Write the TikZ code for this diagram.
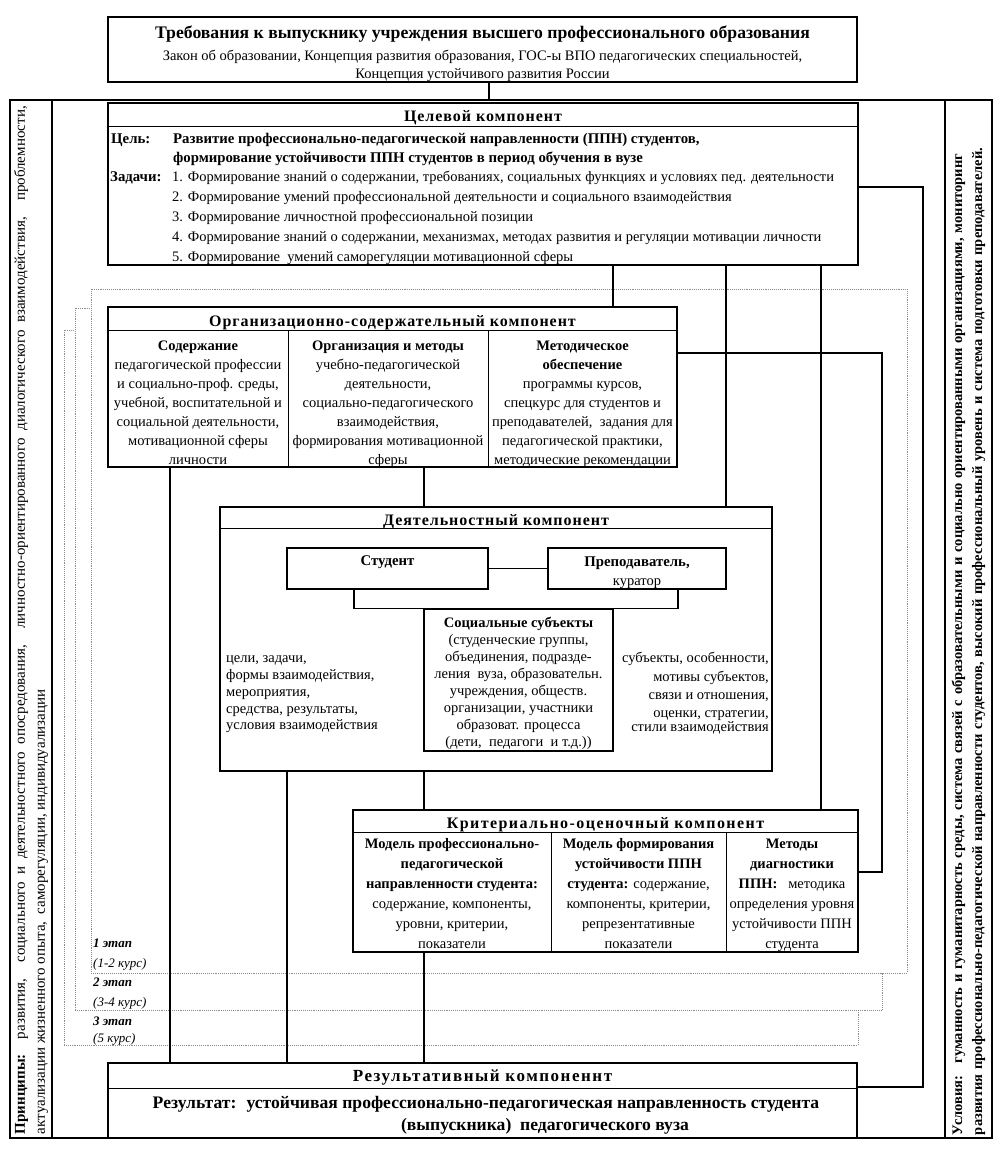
\documentclass[tikz,border=0pt]{standalone}
\usepackage{fontspec}
\setmainfont{Liberation Serif}
\newfontfamily\hdrfam[LetterSpace=6]{Liberation Serif}
\newfontfamily\hdrwide[LetterSpace=9]{Liberation Serif}
\newcommand\fn{\fontsize{14.5}{16}\selectfont}
\newcommand\fb{\fontsize{14.8}{16}\selectfont\bfseries}
\newcommand\fs{\fontsize{13}{15}\selectfont}
\newcommand\fh{\hdrfam\fontsize{16}{18}\selectfont\bfseries}
\newcommand\ftitle{\fontsize{17.7}{19}\selectfont\bfseries}
\newcommand\fres{\fontsize{17.6}{19}\selectfont\bfseries}
\newcommand\colnodes[5]{%
  \foreach \l [count=\i] in {#5} {\node[tx] (#1\i) at ({#2},{#3+#4*(\i-1)}) {\l};}}
\begin{document}
\begin{tikzpicture}[x=1pt,y=-1pt,
  bx/.style={draw, line width=1.4pt, fill=white, inner sep=0pt},
  outerframe/.style={draw, line width=1.6pt, inner sep=0pt},
  fr/.style={draw=black!45, densely dotted, line width=0.9pt, fill=white, inner sep=0pt},
  cn/.style={line width=1.3pt},
  sp/.style={line width=0.8pt},
  tx/.style={inner sep=0pt, anchor=base, font=\fn},
  tw/.style={inner sep=0pt, anchor=base west, font=\fn},
  te/.style={inner sep=0pt, anchor=base east, font=\fn},
  hd/.style={inner sep=0pt, anchor=base, font=\fh},
  stg/.style={inner sep=0pt, anchor=base west, font=\fs\itshape}]
\useasboundingbox (0,0) rectangle (1003,1151);

% ---------- outer frame and side columns ----------
\node[outerframe, minimum width=982, minimum height=1038] (outer) at (501,619) {};
\draw[sp, line width=1.2pt] (52,100) -- (52,1138);
\draw[sp, line width=1.2pt] (945,100) -- (945,1138);

\node[rotate=90, inner sep=0pt, text width=1028pt, align=justify,
  font=\fontsize{15}{20}\selectfont] (princ) at (31,620)
  {\textbf{Принципы:}\quad развития, \ социального и деятельностного опосредования, \ личностно-ориентированного диалогического взаимодействия, \ проблемности,\linebreak
  актуализации жизненного опыта, \ саморегуляции, индивидуализации};
\node[rotate=90, inner sep=0pt, text width=1030pt, align=left,
  font=\fontsize{14.5}{20}\selectfont\bfseries] (cond) at (968.5,620)
  {Условия: \ гуманность и гуманитарность среды, система связей с образовательными и социально ориентированными организациями, мониторинг\\
  развития профессионально-педагогической направленности студентов, высокий профессиональный уровень и система подготовки преподавателей.};

% ---------- stage frames ----------
\node[fr, minimum width=794, minimum height=715] (fr3) at (461,687.5) {};
\node[fr, minimum width=807, minimum height=702] (fr2) at (478.5,659) {};
\node[fr, minimum width=816, minimum height=684] (fr1) at (499,631) {};

\node[stg] (s1a) at (93,947) {\textbf{1 этап}};
\node[stg] (s1b) at (93,967) {(1-2 курс)};
\node[stg] (s2a) at (93,986) {\textbf{2 этап}};
\node[stg] (s2b) at (93,1006) {(3-4 курс)};
\node[stg] (s3a) at (93,1025) {\textbf{3 этап}};
\node[stg] (s3b) at (93,1042) {(5 курс)};

% ---------- coordinates for connectors ----------
\coordinate (x170) at (170,0);
\coordinate (x287) at (287,0);
\coordinate (x354) at (354,0);
\coordinate (x424) at (424,0);
\coordinate (x489) at (489,0);
\coordinate (x613) at (613,0);
\coordinate (x678) at (678,0);
\coordinate (x726) at (726,0);
\coordinate (x821) at (821,0);
\coordinate (ka) at (923,187);
\coordinate (kb) at (923,1087);
\coordinate (ma) at (882,353);
\coordinate (mb) at (882,872);

% ---------- boxes ----------
\node[bx, minimum width=749, minimum height=65] (req) at (482.5,49.5) {};
\node[bx, minimum width=750, minimum height=162] (goal) at (483,184) {};
\node[bx, minimum width=569, minimum height=160] (org) at (392.5,387) {};
\node[bx, minimum width=552, minimum height=264] (act) at (496,639) {};
\node[bx, minimum width=505, minimum height=142] (crit) at (605.5,881) {};
\node[bx, minimum width=749, minimum height=75] (res) at (482.5,1100.5) {};

% ---------- connectors ----------
\draw[cn] (req.south -| x489) -- (outer.north -| x489);
\draw[cn] (goal.south -| x613) -- (org.north -| x613);
\draw[cn] (goal.south -| x726) -- (act.north -| x726);
\draw[cn] (goal.south -| x821) -- (crit.north -| x821);
\draw[cn] (goal.east |- ka) -- (ka) -- (kb) -- (res.east |- kb);
\draw[cn] (org.east |- ma) -- (ma) -- (mb) -- (crit.east |- mb);
\draw[cn] (org.south -| x170) -- (res.north -| x170);
\draw[cn] (org.south -| x424) -- (act.north -| x424);
\draw[cn] (act.south -| x287) -- (res.north -| x287);
\draw[cn] (act.south -| x424) -- (crit.north -| x424);
\draw[cn] (crit.south -| x424) -- (res.north -| x424);

% ---------- top box ----------
\node[tx, font=\ftitle] (req1) at (482.5,38) {Требования к выпускнику учреждения высшего профессионального образования};
\node[tx] (req2t) at (482.5,60) {Закон об образовании, Концепция развития образования, ГОС-ы ВПО педагогических специальностей,};
\node[tx] (req3t) at (482.5,78) {Концепция устойчивого развития России};

% ---------- goal box ----------
\draw[sp] ([yshift=-24pt]goal.north west) -- ([yshift=-24pt]goal.north east);
\node[hd] (goalh) at (483,121) {Целевой компонент};
\node[tw, font=\fb] (g0a) at (111,143) {Цель:};
\node[tw, font=\fb] (g0b) at (173,143) {Развитие профессионально-педагогической направленности (ППН) студентов,};
\node[tw, font=\fb] (g0c) at (173,162) {формирование устойчивости ППН студентов в период обучения в вузе};
\node[tw, font=\fb] (g0d) at (110,181) {Задачи:};
\node[tw] (g1) at (172,181) {1. Формирование знаний о содержании, требованиях, социальных функциях и условиях пед. деятельности};
\node[tw] (g2) at (172,201) {2. Формирование умений профессиональной деятельности и социального взаимодействия};
\node[tw] (g3) at (172,221) {3. Формирование личностной профессиональной позиции};
\node[tw] (g4) at (172,241) {4. Формирование знаний о содержании, механизмах, методах развития и регуляции мотивации личности};
\node[tw] (g5) at (172,261) {5. Формирование \ умений саморегуляции мотивационной сферы};

% ---------- org box ----------
\draw[sp] ([yshift=-24pt]org.north west) -- ([yshift=-24pt]org.north east);
\draw[sp] (288,331) -- (288,467);
\draw[sp] (488,331) -- (488,467);
\node[hd] (orgh) at (392.5,326) {Организационно-содержательный компонент};
\colnodes{oa}{198}{350}{19}{{\textbf{Содержание}},{педагогической профессии},{и социально-проф. среды,},{учебной, воспитательной и},{социальной деятельности,},{мотивационной сферы},{личности}}
\colnodes{ob}{388}{350}{19}{{\textbf{Организация и методы}},{учебно-педагогической},{деятельности,},{социально-педагогического},{взаимодействия,},{формирования мотивационной},{сферы}}
\colnodes{oc}{582.5}{350}{19}{{\textbf{Методическое}},{\textbf{обеспечение}},{программы курсов,},{спецкурс для студентов и},{преподавателей, \ задания для},{педагогической практики,},{методические рекомендации}}

% ---------- activity box ----------
\draw[sp] ([yshift=-22pt]act.north west) -- ([yshift=-22pt]act.north east);
\node[hd] (acth) at (496,525) {Деятельностный компонент};
\node[bx, minimum width=201, minimum height=41] (stud) at (387.5,568.5) {};
\node[bx, minimum width=178, minimum height=41] (teach) at (637,568.5) {};
\draw[cn] (stud.east) -- (teach.west);
\node[bx, minimum width=189, minimum height=142] (soc) at (518.5,680) {};
\draw[cn] (stud.south -| x354) -- (x354 |- soc.north) -- (x678 |- soc.north) -- (teach.south -| x678);
\node[tx, font=\fb] (studt) at (387.5,565) {Студент};
\node[tx, font=\fb] (teacht1) at (637,566) {Преподаватель,};
\node[tx] (teacht2) at (637,585) {куратор};
\colnodes{so}{518.5}{627}{17.1}{{\textbf{Социальные субъекты}},{(студенческие группы,},{объединения, подразде-},{ления \ вуза, образовательн.},{учреждения, обществ.},{организации, участники},{образоват. процесса},{(дети, \ педагоги \ и т.д.))}}
\node[tw] (al1) at (226,662) {цели, задачи,};
\node[tw] (al2) at (226,679) {формы взаимодействия,};
\node[tw] (al3) at (226,696) {мероприятия,};
\node[tw] (al4) at (226,713) {средства, результаты,};
\node[tw] (al5) at (226,729) {условия взаимодействия};
\node[te] (ar1) at (769,662) {субъекты, особенности,};
\node[te] (ar2) at (769,681) {мотивы субъектов,};
\node[te] (ar3) at (769,699) {связи и отношения,};
\node[te] (ar4) at (769,717) {оценки, стратегии,};
\node[te] (ar5) at (769,731) {стили взаимодействия};

% ---------- criteria box ----------
\draw[sp] ([yshift=-23pt]crit.north west) -- ([yshift=-23pt]crit.north east);
\draw[sp] (551,833) -- (551,952);
\draw[sp] (726,833) -- (726,952);
\node[hd, font=\hdrwide\fontsize{16}{18}\selectfont\bfseries] (crith) at (605.5,828) {Критериально-оценочный компонент};
\colnodes{ca}{452}{848}{20}{{\textbf{Модель профессионально-}},{\textbf{педагогической}},{\textbf{направленности студента:}},{содержание, компоненты,},{уровни, критерии,},{показатели}}
\colnodes{cb}{638.5}{848}{20}{{\textbf{Модель формирования}},{\textbf{устойчивости ППН}},{\textbf{студента:} содержание,},{компоненты, критерии,},{репрезентативные},{показатели}}
\colnodes{cc}{792}{848}{20}{{\textbf{Методы}},{\textbf{диагностики}},{\textbf{ППН:} \ \ методика},{определения уровня},{устойчивости ППН},{студента}}

% ---------- result box ----------
\draw[sp] ([yshift=-26pt]res.north west) -- ([yshift=-26pt]res.north east);
\node[tx, font=\hdrwide\fontsize{17}{19}\selectfont\bfseries] (resh) at (482.5,1081) {Результативный компоненнт};
\node[tx, font=\fres] (res1) at (486,1108) {Результат: \ устойчивая профессионально-педагогическая направленность студента};
\node[tx, font=\fres] (res2t) at (545,1130) {(выпускника) \ педагогического вуза};
\end{tikzpicture}
\end{document}
